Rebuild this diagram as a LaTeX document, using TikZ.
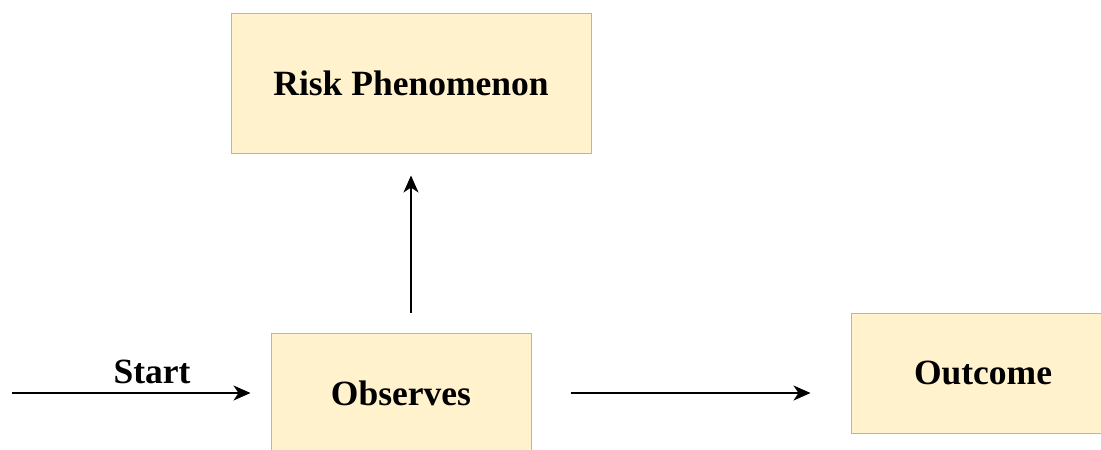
\documentclass[tikz,border=0pt]{standalone}
\usepackage{fontspec}
\setmainfont{Liberation Serif}
\usetikzlibrary{arrows.meta}
\definecolor{boxfill}{HTML}{FFF2CC}
\definecolor{boxline}{HTML}{D6B656}
\tikzset{
  box/.style={draw=boxline, fill=boxfill, line width=1pt, inner sep=0pt,
    font=\fontsize{35.5}{40}\selectfont\bfseries},
  conn/.style={line width=1.8pt, -{Stealth[length=17pt,width=15pt,inset=5pt]}},
  lbl/.style={font=\fontsize{35.5}{40}\selectfont\bfseries, inner sep=0pt}
}
\begin{document}
\begin{tikzpicture}[x=1pt,y=-1pt]
\useasboundingbox (0,0) rectangle (1101,450);
\clip (0,0) rectangle (1101,450);
\fill[white] (0,0) rectangle (1101,450);
\node[box, minimum width=360pt, minimum height=140pt] (risk) at (411,83) {Risk Phenomenon};
\node[box, minimum width=260pt, minimum height=120pt] (obs) at (401,393) {Observes};
\node[box, minimum width=264pt, minimum height=120pt] (out) at (983,373) {Outcome};
\coordinate (start) at (12,393);
\draw[conn, shorten >=20pt] (start) -- (obs.west);
\node[lbl, anchor=base] (startlbl) at (152,383) {Start};
\draw[conn, shorten <=39pt, shorten >=40pt] (obs.east) -- (obs.east -| out.west);
\draw[conn, shorten <=20pt, shorten >=22pt] (risk.south |- obs.north) -- (risk.south);
\end{tikzpicture}
\end{document}
